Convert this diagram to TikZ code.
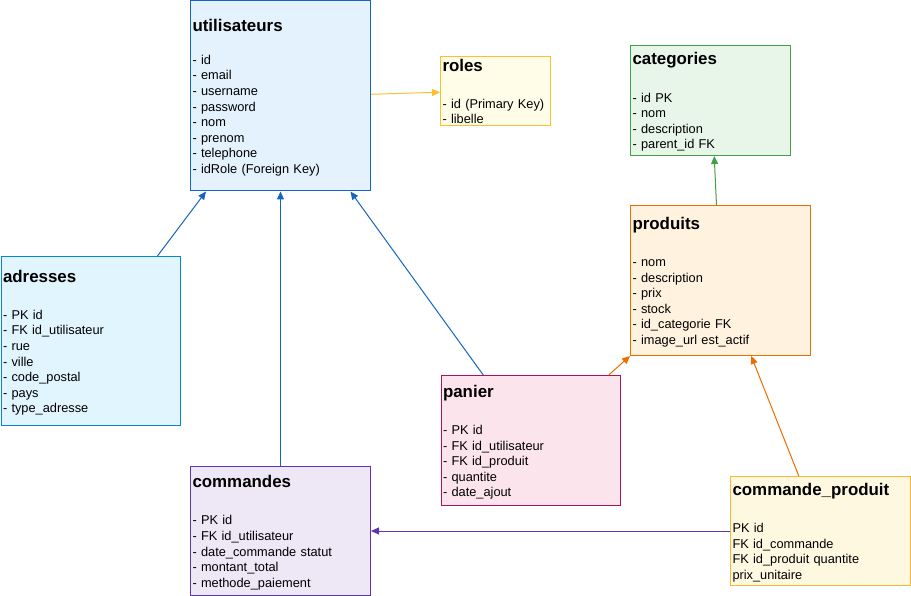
\documentclass[tikz,border=0pt]{standalone}
\usepackage{fontspec}
\setmainfont{Liberation Sans}
\usetikzlibrary{arrows.meta,calc,positioning}
\definecolor{utF}{HTML}{E3F2FD}\definecolor{utD}{HTML}{1565C0}
\definecolor{adF}{HTML}{E1F5FE}\definecolor{adD}{HTML}{0288D1}
\definecolor{roF}{HTML}{FFFDE7}\definecolor{roD}{HTML}{FBC02D}
\definecolor{caF}{HTML}{E8F5E9}\definecolor{caD}{HTML}{43A047}
\definecolor{prF}{HTML}{FFF3E0}\definecolor{prD}{HTML}{EF6C00}
\definecolor{paF}{HTML}{FCE4EC}\definecolor{paD}{HTML}{AD1457}
\definecolor{coF}{HTML}{EDE7F6}\definecolor{coD}{HTML}{5E35B1}
\definecolor{cpF}{HTML}{FFF8E1}\definecolor{cpD}{HTML}{F9B936}
\newcommand{\tbltxt}[3][21.6pt]{{\fontsize{16.9}{19}\selectfont\bfseries\rule{0pt}{16pt}#2}\\[#1]#3\rule[-3pt]{0pt}{0pt}}

\begin{document}
\begin{tikzpicture}[x=1pt,y=-1pt,
tbl/.style={draw,line width=1pt,anchor=north west,inner xsep=2pt,inner ysep=0pt,
align=left,font=\fontsize{12.8}{15.6}\selectfont},
fk/.style={draw=#1,line width=1pt,-{Triangle[length=8pt,width=7pt]}}]
\useasboundingbox (0,0) rectangle (911,596);
\node[tbl,fill=utF,draw=utD,text width=176pt,minimum height=190pt] (Ut) at (190,0.5)
{\tbltxt[17.1pt]{utilisateurs}{- id\\- email\\- username\\- password\\- nom\\- prenom\\- telephone\\- idRole (Foreign Key)}};
\node[tbl,fill=roF,draw=roD,text width=106pt,minimum height=69pt,inner ysep=-2pt] (Ro) at (440,56)
{\tbltxt{roles}{- id (Primary Key)\\- libelle}};
\node[tbl,fill=caF,draw=caD,text width=156pt,minimum height=110pt] (Ca) at (630,45)
{\tbltxt{categories}{- id PK\\- nom\\- description\\- parent\_id FK}};
\node[tbl,fill=prF,draw=prD,text width=176pt,minimum height=150pt] (Pr) at (630,205)
{\tbltxt{produits}{- nom\\- description\\- prix\\- stock\\- id\_categorie FK\\- image\_url est\_actif}};
\node[tbl,fill=adF,draw=adD,text width=175.5pt,minimum height=169pt] (Ad) at (0.5,256)
{\tbltxt{adresses}{- PK id\\- FK id\_utilisateur\\- rue\\- ville\\- code\_postal\\- pays\\- type\_adresse}};
\node[tbl,fill=paF,draw=paD,text width=175.5pt,minimum height=130pt] (Pa) at (440.5,375)
{\tbltxt{panier}{- PK id\\- FK id\_utilisateur\\- FK id\_produit\\- quantite\\- date\_ajout}};
\node[tbl,fill=coF,draw=coD,text width=176pt,minimum height=129pt] (Co) at (190,466)
{\tbltxt{commandes}{- PK id\\- FK id\_utilisateur\\- date\_commande statut\\- montant\_total\\- methode\_paiement}};
\node[tbl,fill=cpF,draw=cpD,text width=176pt,minimum height=109pt] (CP) at (730,476)
{\tbltxt{commande\_produit}{PK id\\FK id\_commande\\FK id\_produit quantite\\prix\_unitaire}};
\draw[fk=roD] ([yshift=1.7pt]Ut.east) -- ([yshift=-1.2pt]Ro.west);
\draw[fk=caD] ([xshift=-4pt]Pr.north) -- ([xshift=3.7pt]Ca.south);
\draw[fk=utD] ([xshift=66.7pt]Ad.north) -- ([xshift=-74.5pt]Ut.south);
\draw[fk=utD] (Co.north) -- (Ut.south);
\draw[fk=utD] ([xshift=-47.5pt]Pa.north) -- ([xshift=70pt]Ut.south);
\draw[fk=prD] ([xshift=78pt]Pa.north) -- (Pr.south west);
\draw[fk=prD] ([xshift=-21.7pt]CP.north) -- ([xshift=30.7pt]Pr.south);
\draw[fk=coD] (CP.west) -- (CP.west -| Co.east);
\end{tikzpicture}
\end{document}
